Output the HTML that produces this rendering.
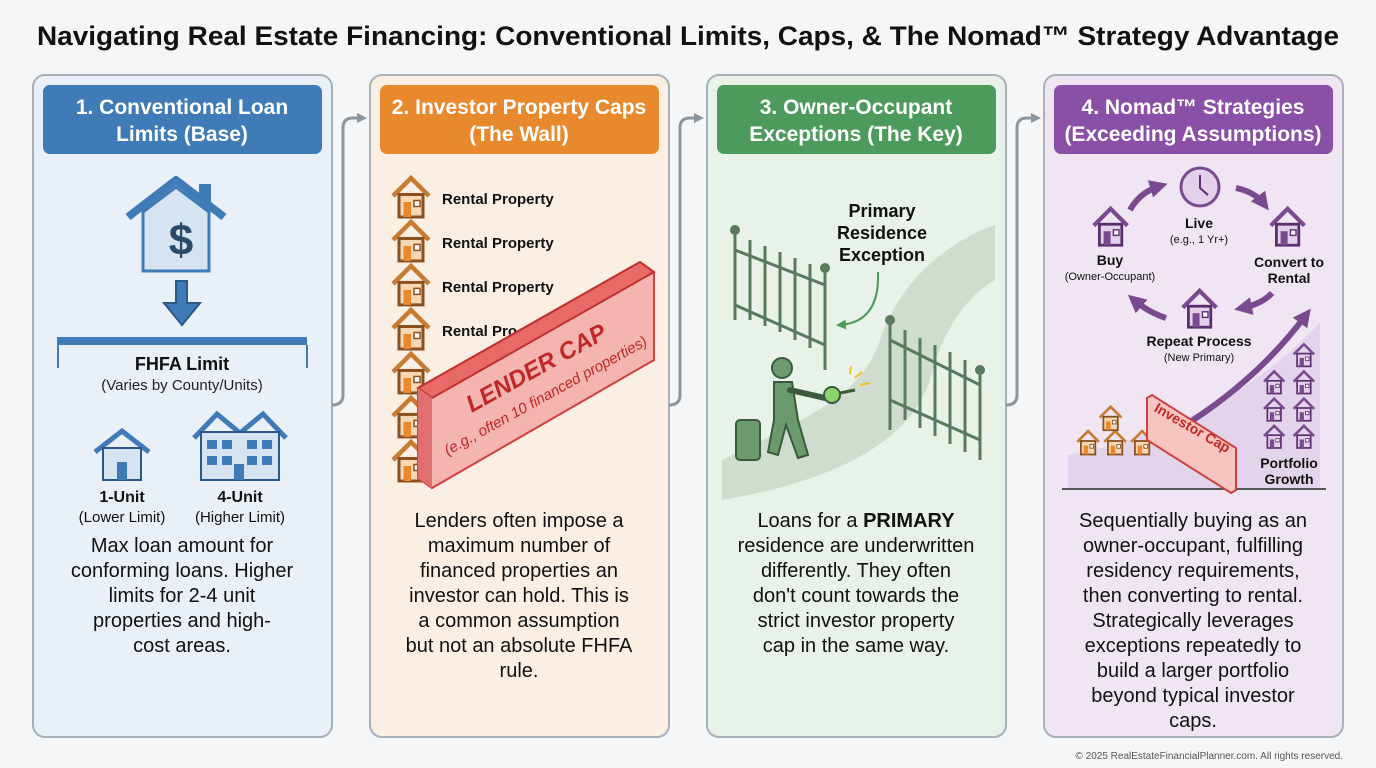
<!DOCTYPE html>
<html><head><meta charset="utf-8"><style>
body{margin:0;background:#f4f6f8;}
svg{display:block;font-family:"Liberation Sans",Arial,sans-serif;}
</style></head><body>
<svg width="1376" height="768" viewBox="0 0 1376 768" xmlns="http://www.w3.org/2000/svg">
<defs>
<marker id="ga" markerUnits="userSpaceOnUse" markerWidth="10" markerHeight="10" refX="7" refY="5" orient="auto"><path d="M0,0 L10,5 L0,10 z" fill="#8d959e"/></marker>
<marker id="pa" markerUnits="userSpaceOnUse" markerWidth="18" markerHeight="18" refX="10" refY="9" orient="auto"><path d="M0,0 L18,9 L0,18 z" fill="#7a4a90"/></marker>
<marker id="gr" markerUnits="userSpaceOnUse" markerWidth="10" markerHeight="10" refX="6" refY="5" orient="auto"><path d="M0,0 L10,5 L0,10 z" fill="#4a9a5a"/></marker>
<g id="oh"><path d="M2,14 L14,2 L26,14" fill="none" stroke="#c87a30" stroke-width="3"/><rect x="6" y="13" width="16" height="15" fill="#f6d7b4" stroke="#8a5020" stroke-width="2"/><rect x="9" y="18" width="5" height="10" fill="#e8892e"/><rect x="16" y="17" width="4" height="4" fill="#fff" stroke="#8a5020"/></g>
<g id="ph"><path d="M2,14 L14,2 L26,14" fill="none" stroke="#7a4a90" stroke-width="3"/><rect x="6" y="13" width="16" height="15" fill="#e3d0ea" stroke="#5a2f70" stroke-width="2"/><rect x="9" y="18" width="5" height="10" fill="#7a4a90"/><rect x="16" y="17" width="4" height="4" fill="#fff" stroke="#5a2f70"/></g>
</defs>
<rect width="1376" height="768" fill="#f4f6f8"/>
<text x="688" y="45" text-anchor="middle" font-size="27" font-weight="bold" fill="#111" textLength="1302" lengthAdjust="spacingAndGlyphs">Navigating Real Estate Financing: Conventional Limits, Caps, &amp; The Nomad™ Strategy Advantage</text>

<rect x="33" y="75" width="299" height="662" rx="12" fill="#eaf0f8" stroke="#a8b0b8" stroke-width="2"/>
<rect x="370" y="75" width="299" height="662" rx="12" fill="#fbefe3" stroke="#a8b0b8" stroke-width="2"/>
<rect x="707" y="75" width="299" height="662" rx="12" fill="#e8f2e8" stroke="#a8b0b8" stroke-width="2"/>
<rect x="1044" y="75" width="299" height="662" rx="12" fill="#f0e6f3" stroke="#a8b0b8" stroke-width="2"/>

<rect x="43" y="85" width="279" height="69" rx="7" fill="#3f7bb6"/>
<rect x="380" y="85" width="279" height="69" rx="7" fill="#e8892e"/>
<rect x="717" y="85" width="279" height="69" rx="7" fill="#4c9b5c"/>
<rect x="1054" y="85" width="279" height="69" rx="7" fill="#8a4fa6"/>
<g font-size="21" font-weight="bold" fill="#fff" text-anchor="middle">
<text x="182" y="114">1. Conventional Loan</text><text x="182" y="141">Limits (Base)</text>
<text x="519" y="114">2. Investor Property Caps</text><text x="519" y="141">(The Wall)</text>
<text x="856" y="114">3. Owner-Occupant</text><text x="856" y="141">Exceptions (The Key)</text>
<text x="1193" y="114">4. Nomad™ Strategies</text><text x="1193" y="141">(Exceeding Assumptions)</text>
</g>

<g fill="none" stroke="#8d959e" stroke-width="3" marker-end="url(#ga)">
<path d="M332,405 Q343,405 343,395 L343,128 Q343,118 353,118 L364,118"/>
<path d="M669,405 Q680,405 680,395 L680,128 Q680,118 690,118 L701,118"/>
<path d="M1006,405 Q1017,405 1017,395 L1017,128 Q1017,118 1027,118 L1038,118"/>
</g>

<path d="M128,217 L176,180 L224,217" fill="none" stroke="#3f7bb6" stroke-width="8" stroke-linejoin="round"/>
<rect x="199" y="184" width="12" height="20" fill="#3f7bb6"/>
<path d="M143,212 L176,187 L209,212 L209,271 L143,271 Z" fill="#d6e4f1" stroke="#3f7bb6" stroke-width="3"/>
<text x="181" y="255" text-anchor="middle" font-size="44" font-weight="bold" fill="#2a4a6a">$</text>
<path d="M176,281 L187,281 L187,303 L200,303 L182,325 L164,303 L176,303 Z" fill="#3f7bb6" stroke="#2a5a8a" stroke-width="2"/>
<rect x="57" y="337" width="250" height="8" fill="#3f7bb6"/>
<line x1="58" y1="345" x2="58" y2="368" stroke="#3f7bb6" stroke-width="2"/>
<line x1="307" y1="345" x2="307" y2="368" stroke="#3f7bb6" stroke-width="2"/>
<text x="182" y="370" text-anchor="middle" font-size="18" font-weight="bold" fill="#111">FHFA Limit</text>
<text x="182" y="390" text-anchor="middle" font-size="15" fill="#222">(Varies by County/Units)</text>
<path d="M95,452 L122,431 L149,452" fill="none" stroke="#3f7bb6" stroke-width="5"/>
<rect x="103" y="448" width="38" height="32" fill="#d6e4f1" stroke="#2a5a8a" stroke-width="2"/>
<rect x="117" y="462" width="10" height="18" fill="#3f7bb6"/>
<path d="M194,438 L217,414 L240,433 L263,414 L286,438" fill="none" stroke="#3f7bb6" stroke-width="5"/>
<rect x="201" y="432" width="78" height="48" fill="#d6e4f1" stroke="#2a5a8a" stroke-width="2"/>
<g fill="#3f7bb6"><rect x="207" y="440" width="10" height="9"/><rect x="222" y="440" width="10" height="9"/><rect x="247" y="440" width="10" height="9"/><rect x="262" y="440" width="10" height="9"/><rect x="207" y="456" width="10" height="9"/><rect x="222" y="456" width="10" height="9"/><rect x="247" y="456" width="10" height="9"/><rect x="262" y="456" width="10" height="9"/><rect x="234" y="464" width="10" height="16"/></g>
<g text-anchor="middle" fill="#111">
<text x="122" y="502" font-size="16" font-weight="bold">1-Unit</text><text x="122" y="522" font-size="15">(Lower Limit)</text>
<text x="240" y="502" font-size="16" font-weight="bold">4-Unit</text><text x="240" y="522" font-size="15">(Higher Limit)</text>
</g>
<g font-size="20" text-anchor="middle" fill="#111">
<text x="182" y="552">Max loan amount for</text><text x="182" y="577">conforming loans. Higher</text><text x="182" y="602">limits for 2-4 unit</text><text x="182" y="627">properties and high-</text><text x="182" y="652">cost areas.</text>
</g>

<g transform="translate(390,175) scale(1.5)"><use href="#oh" x="0" y="0"/><use href="#oh" x="0" y="29.3"/><use href="#oh" x="0" y="58.6"/><use href="#oh" x="0" y="88"/><use href="#oh" x="0" y="117.3"/><use href="#oh" x="0" y="146.6"/><use href="#oh" x="0" y="176"/></g>
<g font-size="15" font-weight="bold" fill="#111">
<text x="442" y="204">Rental Property</text><text x="442" y="248">Rental Property</text><text x="442" y="292">Rental Property</text><text x="442" y="336">Rental Pro</text>
</g>
<path d="M418,388 L640,262 L654,272 L654,360 L432,488 L418,478 Z" fill="#f4b4b0" stroke="#d04040" stroke-width="2"/>
<path d="M418,388 L640,262 L654,272 L432,398 Z" fill="#e86a66" stroke="#c03030" stroke-width="2"/>
<path d="M418,388 L432,398 L432,488 L418,478 Z" fill="#e07070"/>
<text transform="translate(540,375) rotate(-29)" text-anchor="middle" font-size="24" font-weight="bold" font-style="italic" fill="#c02828">LENDER CAP</text>
<text transform="translate(548,400) rotate(-29)" text-anchor="middle" font-size="15" font-style="italic" fill="#c02828">(e.g., often 10 financed properties)</text>
<g font-size="20" text-anchor="middle" fill="#111">
<text x="519" y="527">Lenders often impose a</text><text x="519" y="552">maximum number of</text><text x="519" y="577">financed properties an</text><text x="519" y="602">investor can hold. This is</text><text x="519" y="627">a common assumption</text><text x="519" y="652">but not an absolute FHFA</text><text x="519" y="677">rule.</text>
</g>

<path d="M722,460 C800,420 860,400 880,340 C900,280 950,240 995,225 L995,280 C960,300 940,340 930,380 C910,440 840,480 722,500 Z" fill="#cfdccf"/>
<g stroke="#5a7a5e" stroke-width="3" fill="none">
<line x1="735" y1="232" x2="735" y2="320"/><line x1="825" y1="268" x2="825" y2="370"/>
<line x1="735" y1="250" x2="825" y2="285"/><line x1="735" y1="305" x2="825" y2="345"/>
<line x1="750" y1="240" x2="750" y2="320"/><line x1="765" y1="246" x2="765" y2="326"/><line x1="780" y1="252" x2="780" y2="332"/><line x1="795" y1="258" x2="795" y2="340"/><line x1="810" y1="264" x2="810" y2="348"/>
<line x1="890" y1="322" x2="890" y2="430"/><line x1="980" y1="370" x2="980" y2="460"/>
<line x1="890" y1="340" x2="980" y2="385"/><line x1="890" y1="400" x2="980" y2="440"/>
<line x1="905" y1="330" x2="905" y2="420"/><line x1="920" y1="338" x2="920" y2="428"/><line x1="935" y1="345" x2="935" y2="436"/><line x1="950" y1="352" x2="950" y2="444"/><line x1="965" y1="360" x2="965" y2="452"/>
</g>
<circle cx="735" cy="230" r="5" fill="#5a7a5e"/><circle cx="825" cy="268" r="5" fill="#5a7a5e"/><circle cx="890" cy="320" r="5" fill="#5a7a5e"/><circle cx="980" cy="370" r="5" fill="#5a7a5e"/>
<g text-anchor="middle" font-size="18" font-weight="bold" fill="#111">
<text x="882" y="217">Primary</text><text x="882" y="239">Residence</text><text x="882" y="261">Exception</text>
</g>
<path d="M878,272 Q880,322 840,325" fill="none" stroke="#4a9a5a" stroke-width="2" marker-end="url(#gr)"/>
<g fill="#6a9a6e" stroke="#3a5a3e" stroke-width="2">
<circle cx="782" cy="368" r="10"/>
<path d="M774,382 L792,382 L798,420 L808,455 L798,458 L786,425 L778,455 L768,452 L774,420 Z"/>
<path d="M790,390 L825,398" stroke-width="6" stroke-linecap="round"/>
<rect x="736" y="420" width="24" height="40" rx="4"/>
</g>
<circle cx="832" cy="395" r="8" fill="#8cd46c" stroke="#3a5a3e" stroke-width="2"/><line x1="840" y1="393" x2="855" y2="390" stroke="#3a5a3e" stroke-width="3"/>
<g stroke="#f2c020" stroke-width="2"><line x1="855" y1="378" x2="862" y2="372"/><line x1="860" y1="385" x2="870" y2="383"/><line x1="850" y1="374" x2="851" y2="366"/></g>
<g font-size="20" text-anchor="middle" fill="#111">
<text x="856" y="527">Loans for a <tspan font-weight="bold">PRIMARY</tspan></text><text x="856" y="552">residence are underwritten</text><text x="856" y="577">differently. They often</text><text x="856" y="602">don't count towards the</text><text x="856" y="627">strict investor property</text><text x="856" y="652">cap in the same way.</text>
</g>

<path d="M1068,455 C1150,440 1250,400 1320,322 L1320,490 L1068,490 Z" fill="#e2d4ea"/>
<line x1="1062" y1="489" x2="1326" y2="489" stroke="#555" stroke-width="2"/>
<circle cx="1200" cy="187" r="19" fill="#e3d0ea" stroke="#7a4a90" stroke-width="3"/>
<path d="M1200,175 L1200,188 L1208,195" fill="none" stroke="#5a2f70" stroke-width="2"/>
<g transform="translate(1091,206) scale(1.4)"><use href="#ph"/></g>
<g transform="translate(1268,206) scale(1.4)"><use href="#ph"/></g>
<g transform="translate(1180,288) scale(1.4)"><use href="#ph"/></g>
<g fill="none" stroke="#7a4a90" stroke-width="6" marker-end="url(#pa)">
<path d="M1130,210 Q1140,192 1160,186"/><path d="M1236,188 Q1255,192 1264,204"/>
<path d="M1272,293 Q1262,304 1242,308"/><path d="M1166,318 Q1148,312 1134,300"/>
<path d="M1160,440 Q1250,390 1306,315"/>
</g>
<g text-anchor="middle" fill="#111">
<text x="1199" y="228" font-size="14" font-weight="bold">Live</text><text x="1199" y="243" font-size="11">(e.g., 1 Yr+)</text>
<text x="1110" y="265" font-size="14" font-weight="bold">Buy</text><text x="1110" y="280" font-size="11">(Owner-Occupant)</text>
<text x="1289" y="267" font-size="14" font-weight="bold">Convert to</text><text x="1289" y="283" font-size="14" font-weight="bold">Rental</text>
<text x="1199" y="346" font-size="14" font-weight="bold">Repeat Process</text><text x="1199" y="361" font-size="11">(New Primary)</text>
<text x="1289" y="468" font-size="14" font-weight="bold">Portfolio</text><text x="1289" y="484" font-size="14" font-weight="bold">Growth</text>
</g>
<g transform="scale(0.9)">
<use href="#oh" x="1195" y="477"/><use href="#oh" x="1225" y="477"/><use href="#oh" x="1255" y="477"/><use href="#oh" x="1220" y="450"/>
</g>
<g transform="scale(0.85)">
<use href="#ph" x="1520" y="403"/><use href="#ph" x="1485" y="435"/><use href="#ph" x="1520" y="435"/><use href="#ph" x="1485" y="467"/><use href="#ph" x="1520" y="467"/><use href="#ph" x="1485" y="499"/><use href="#ph" x="1520" y="499"/>
</g>
<path d="M1147,398 L1152,395 L1236,448 L1236,490 L1231,493 L1147,440 Z" fill="#f7c4c0" stroke="#d04040" stroke-width="2"/>
<text transform="translate(1190,432) rotate(30)" text-anchor="middle" font-size="14" font-weight="bold" fill="#c02828">Investor Cap</text>
<g font-size="20" text-anchor="middle" fill="#111">
<text x="1193" y="527">Sequentially buying as an</text><text x="1193" y="552">owner-occupant, fulfilling</text><text x="1193" y="577">residency requirements,</text><text x="1193" y="602">then converting to rental.</text><text x="1193" y="627">Strategically leverages</text><text x="1193" y="652">exceptions repeatedly to</text><text x="1193" y="677">build a larger portfolio</text><text x="1193" y="702">beyond typical investor</text><text x="1193" y="727">caps.</text>
</g>
<text x="1343" y="759" text-anchor="end" font-size="10" fill="#555">© 2025 RealEstateFinancialPlanner.com. All rights reserved.</text>
</svg>
</body></html>
